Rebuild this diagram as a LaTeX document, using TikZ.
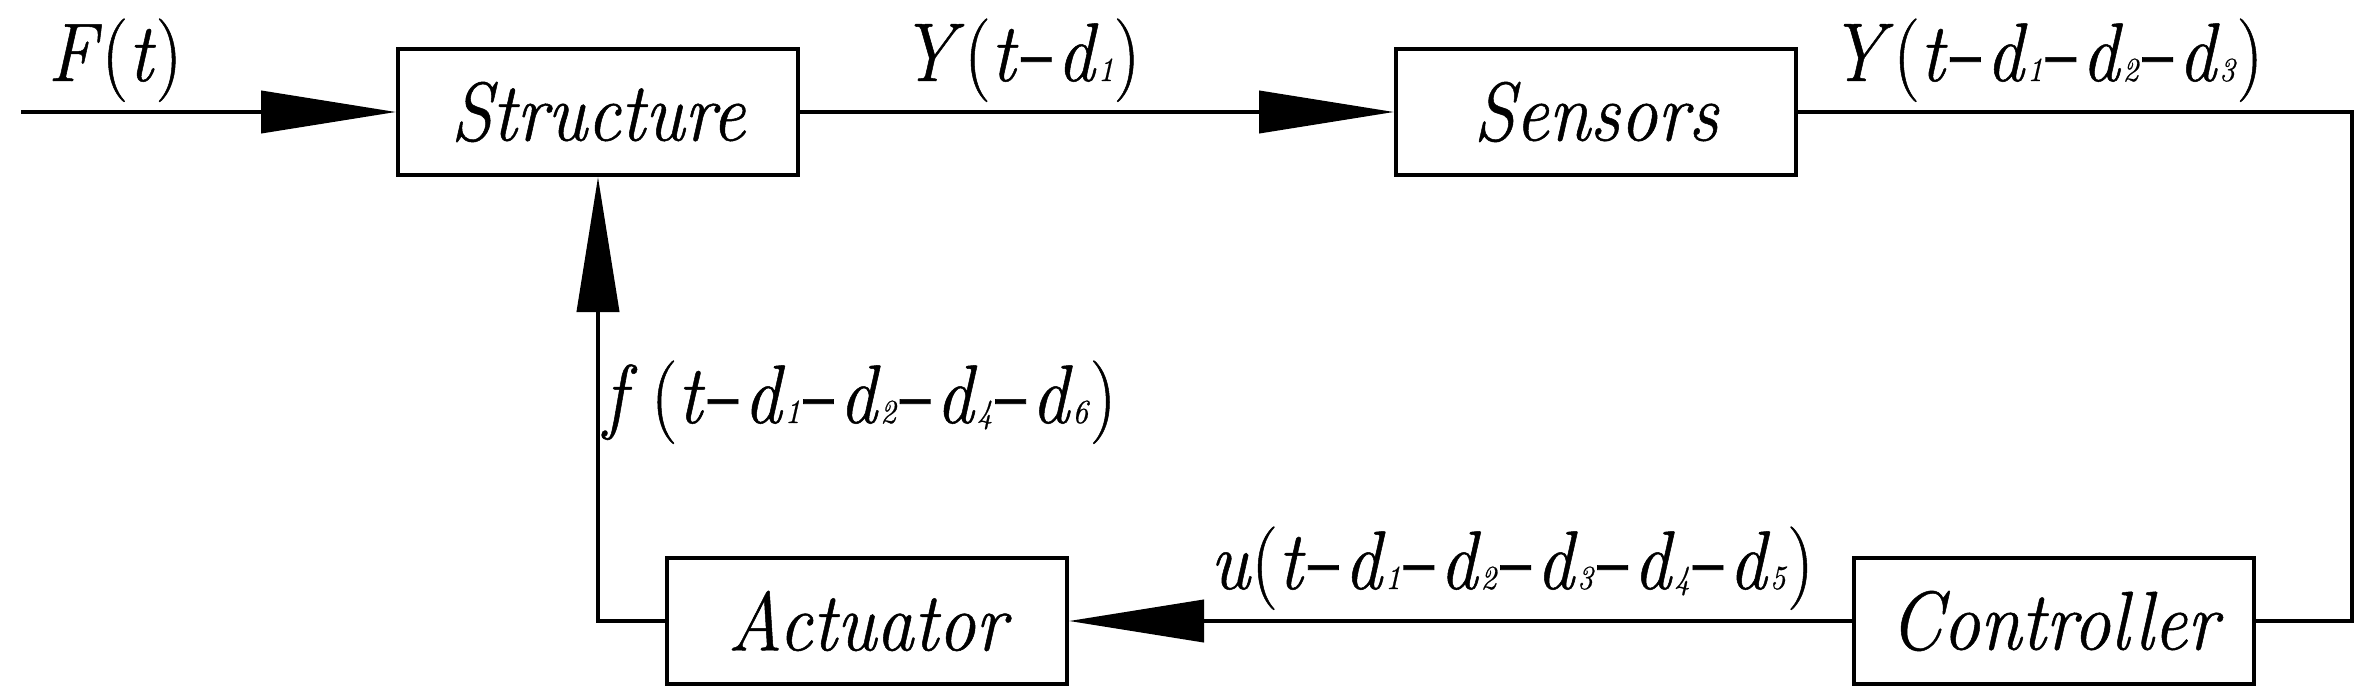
\documentclass[tikz,border=0pt]{standalone}
\usepackage{fontspec}
\setmainfont{Latin Modern Roman}[FakeStretch=0.9, FakeBold=0.6]
\usetikzlibrary{arrows.meta}
\newcommand{\dsub}[1]{\textit{d}{\fontsize{9.6pt}{10pt}\selectfont\textit{#1}}}
\newcommand{\hy}{\kern0.03em\scalebox{1.6}[1.2]{-}}
\begin{document}
\begin{tikzpicture}[x=0.1mm,y=-0.1mm,
  block/.style={draw=black, line width=0.4mm, minimum width=40mm, minimum height=12.6mm, inner sep=0pt, font=\fontsize{23.7pt}{28pt}\selectfont\itshape},
  sig/.style={anchor=base, inner sep=0pt, font=\fontsize{23.7pt}{28pt}\selectfont},
  wire/.style={line width=0.4mm},
  arr/.style={wire, -{Triangle[length=13.5mm, width=4.2mm]}}]
\useasboundingbox (0,0) rectangle (2361,695);
\node [block] (struct) at (598,112) {Structure};
\node [block] (sens) at (1596,112) {Sensors};
\node [block] (ctrl) at (2054,621) {Controller};
\node [block] (act) at (867,621) {Actuator};
\coordinate (in) at (21,112);
\coordinate (loop) at (2352,400);
\node [sig] (Ft) at (115,81) {\textit{F}(\textit{t})};
\node [sig] (Y1) at (1020,81) {\textit{Y}(\textit{t}\hy\dsub{1})};
\node [sig] (Y3) at (2046,81) {\textit{Y}(\textit{t}\hy\dsub{1}\hy\dsub{2}\hy\dsub{3})};
\node [sig] (fa) at (860,423) {\textit{f}\,(\textit{t}\hy\dsub{1}\hy\dsub{2}\hy\dsub{4}\hy\dsub{6})};
\node [sig] (uc) at (1512,589) {\textit{u}(\textit{t}\hy\dsub{1}\hy\dsub{2}\hy\dsub{3}\hy\dsub{4}\hy\dsub{5})};
\draw [arr] (in) -- (struct);
\draw [arr] (struct) -- (sens);
\draw [wire] (sens.east) -| (loop) |- (ctrl.east);
\draw [arr] (ctrl) -- (act);
\draw [arr] (act.west) -| (struct.south);
\end{tikzpicture}
\end{document}
